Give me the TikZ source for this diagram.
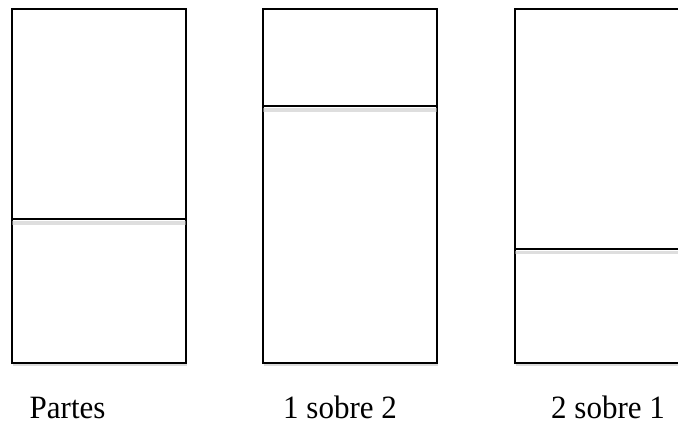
\documentclass[tikz,border=0pt]{standalone}
\usepackage{fontspec}
\setmainfont{Liberation Serif}
\usetikzlibrary{calc}
\begin{document}
\begin{tikzpicture}[x=1pt,y=-1pt,
  box/.style={draw=black, line width=2pt, fill=white, inner sep=0pt, minimum width=174pt, minimum height=354.5pt, anchor=north west},
  boxshadow/.style={fill=black!30, opacity=0.45, inner sep=0pt, minimum width=174pt, minimum height=354.5pt, anchor=north west},
  divider/.style={draw=black, line width=2pt},
  divshadow/.style={draw=black!25, line width=3.5pt, opacity=0.5},
  lbl/.style={font=\fontsize{31}{35}\selectfont, anchor=base west, inner sep=0pt, yscale=1.05}]
\useasboundingbox (0,0) rectangle (678,426);
\clip (0,0) rectangle (678,426);
% shadows
\node[boxshadow] at (13,11) {};
\node[boxshadow] at (264,11) {};
\node[boxshadow] at (516,11) {};
% boxes
\node[box] (b1) at (11,7.5) {};
\node[box] (b2) at (262,7.5) {};
\node[box] (b3) at (514,7.5) {};
% dividers
\coordinate (d1) at (0,219);
\coordinate (d2) at (0,106);
\coordinate (d3) at (0,248.5);
\draw[divshadow] ($(b1.west |- d1)+(1,4)$) -- ($(b1.east |- d1)+(-1,4)$);
\draw[divshadow] ($(b2.west |- d2)+(1,4)$) -- ($(b2.east |- d2)+(-1,4)$);
\draw[divshadow] ($(b3.west |- d3)+(1,4)$) -- ($(b3.east |- d3)+(-1,4)$);
\draw[divider] (b1.west |- d1) -- (b1.east |- d1);
\draw[divider] (b2.west |- d2) -- (b2.east |- d2);
\draw[divider] (b3.west |- d3) -- (b3.east |- d3);
% labels
\node[lbl] (l1) at (29.5,418.5) {Partes};
\node[lbl] (l2) at (283,418.5) {1 sobre 2};
\node[lbl] (l3) at (551,418.5) {2 sobre 1};
\end{tikzpicture}
\end{document}
